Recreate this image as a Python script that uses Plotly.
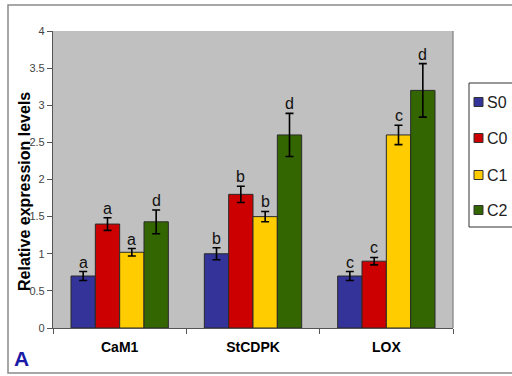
import plotly.graph_objects as go

# ---- data ----
categories = ["CaM1", "StCDPK", "LOX"]
series = ["S0", "C0", "C1", "C2"]
colors = ["#333399", "#CC0000", "#FFCC00", "#336600"]
s0_vals = [0.70, 1.00, 0.70]
c0_vals = [1.40, 1.80, 0.90]
c1_vals = [1.02, 1.50, 2.60]
c2_vals = [1.43, 2.60, 3.20]
s0_err = [0.06, 0.08, 0.06]
c0_err = [0.085, 0.11, 0.05]
c1_err = [0.05, 0.07, 0.13]
c2_err = [0.16, 0.29, 0.36]
s0_letters = ["a", "b", "c"]
c0_letters = ["a", "b", "c"]
c1_letters = ["a", "b", "c"]
c2_letters = ["d", "d", "d"]
y_ticks = [0, 0.5, 1, 1.5, 2, 2.5, 3, 3.5, 4]

values = [s0_vals, c0_vals, c1_vals, c2_vals]
errors = [s0_err, c0_err, c1_err, c2_err]
letters = [s0_letters, c0_letters, c1_letters, c2_letters]

# ---- layout geometry ----
W, H = 512, 376
L, R, T, B = 53, 59, 31, 48
PW, PH = W - L - R, H - T - B
BARGAP = 0.27


def px(xp):
    return (xp - L) / PW


def py(yp):
    return (H - B - yp) / PH


xpos = list(range(len(categories)))
fig = go.Figure()
for name, col, vals, errs in zip(series, colors, values, errors):
    fig.add_trace(go.Bar(
        x=xpos, y=vals, name=name,
        marker=dict(color=col, line=dict(color="#2a2a2a", width=1)),
        error_y=dict(type="data", array=errs, color="black", thickness=1.6, width=4),
        showlegend=False,
    ))

annotations = []
n = len(series)
w = (1 - BARGAP) / n
for j in range(n):
    for i in range(len(categories)):
        annotations.append(dict(
            x=i + (j - (n - 1) / 2) * w, y=values[j][i] + errors[j][i],
            xref="x", yref="y", text=letters[j][i], showarrow=False,
            xanchor="center", yanchor="bottom", yshift=-1,
            font=dict(family="Arial, Liberation Sans", size=16, color="#111"),
        ))

# y title
annotations.append(dict(
    x=px(24), y=py(192), xref="paper", yref="paper", text="Relative expression levels",
    textangle=-90, showarrow=False, xanchor="center", yanchor="middle",
    font=dict(family="Arial, Liberation Sans", size=16, color="black", weight="bold"),
))
# panel letter
annotations.append(dict(
    x=px(21.5), y=py(358), xref="paper", yref="paper", text="A", showarrow=False,
    xanchor="center", yanchor="middle",
    font=dict(family="Arial, Liberation Sans", size=21, color="#1a1aa6", weight="bold"),
))

shapes = [
    # outer frame
    dict(type="rect", xref="paper", yref="paper", x0=px(8), x1=px(530), y0=py(373), y1=py(5),
         line=dict(color="#8a8a8a", width=1.5), layer="below"),
    # right plot border
    dict(type="line", xref="paper", yref="paper", x0=1, x1=1, y0=0, y1=1,
         line=dict(color="#808080", width=1.2)),
    # legend box
    dict(type="rect", xref="paper", yref="paper", x0=px(469), x1=px(540), y0=py(227), y1=py(83),
         line=dict(color="#333", width=1), fillcolor="white"),
]

legend_y = [102, 138, 175, 210]
for name, col, ly in zip(series, colors, legend_y):
    shapes.append(dict(type="rect", xref="paper", yref="paper",
                       x0=px(474), x1=px(483), y0=py(ly + 4.5), y1=py(ly - 4.5),
                       line=dict(color="#333", width=1), fillcolor=col))
    annotations.append(dict(x=px(485), y=py(ly), xref="paper", yref="paper", text=name,
                            xanchor="left", yanchor="middle", showarrow=False,
                            font=dict(family="Arial, Liberation Sans", size=16, color="#222")))

fig.update_layout(
    width=W, height=H,
    margin=dict(l=L, r=R, t=T, b=B, pad=0),
    paper_bgcolor="white", plot_bgcolor="#c0c0c0",
    barmode="group", bargap=BARGAP, bargroupgap=0,
    annotations=annotations, shapes=shapes,
    font=dict(family="Arial, Liberation Sans"),
    xaxis=dict(
        range=[-0.5, len(categories) - 0.5], tickvals=xpos, ticktext=categories,
        ticks="", showline=True, linecolor="#555", linewidth=1.2, showgrid=False, zeroline=False,
        tickfont=dict(family="Arial, Liberation Sans", size=14, color="black", weight="bold"),
        ticklabelstandoff=6,
        minor=dict(tickmode="array", tickvals=[k - 0.5 for k in range(len(categories) + 1)],
                   ticks="outside", ticklen=5, tickcolor="#555", showgrid=False),
    ),
    yaxis=dict(
        range=[0, 4], tickvals=y_ticks, ticks="outside", ticklen=5, tickcolor="#555",
        showline=True, linecolor="#555", linewidth=1.2, showgrid=False, zeroline=False,
        tickfont=dict(family="Arial, Liberation Sans", size=11, color="#444"),
    ),
)

fig.write_html("out.html")
